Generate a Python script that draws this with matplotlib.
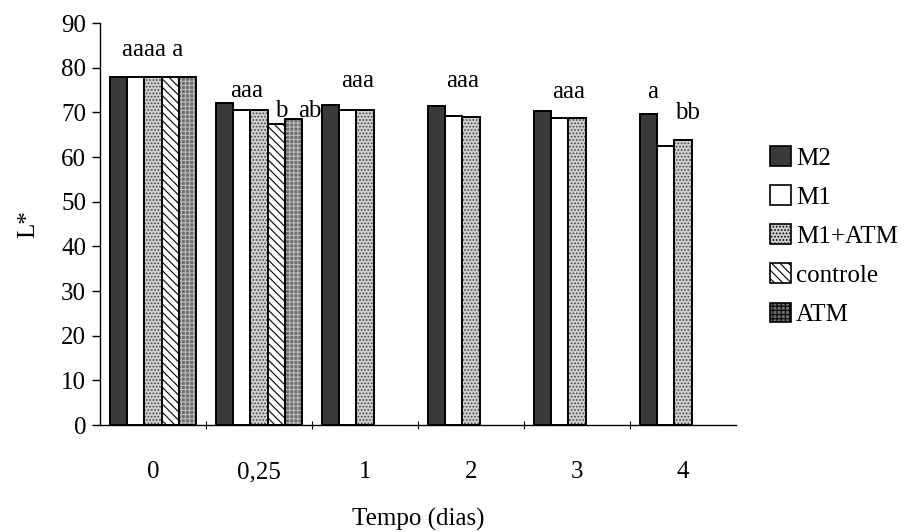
import numpy as np
import matplotlib
matplotlib.use("Agg")
import matplotlib.pyplot as plt
from matplotlib.patches import Patch

plt.rcParams['font.family'] = ['Liberation Serif', 'DejaVu Serif']
plt.rcParams['hatch.linewidth'] = 0.8

categories = ["0", "0,25", "1", "2", "3", "4"]
series_names = ["M2", "M1", "M1+ATM", "controle", "ATM"]
M2 = [78.0, 72.0, 71.7, 71.4, 70.2, 69.7]
M1 = [78.0, 70.6, 70.6, 69.1, 68.8, 62.4]
M1_ATM = [78.0, 70.6, 70.6, 69.0, 68.8, 63.7]
controle = [78.0, 67.5, None, None, None, None]
ATM = [78.0, 68.6, None, None, None, None]

# significance letters: (group index, text, baseline value)
letter_groups = [0, 1, 1, 1, 2, 3, 4, 5, 5]
letter_texts = ["aaaa a", "aaa", "b", "ab", "aaa", "aaa", "aaa", "a", "bb"]
letter_y = [82.5, 73.5, 69.0, 69.0, 75.6, 75.6, 73.3, 73.3, 68.4]
letter_dx = [0.0, -0.12, 0.21, 0.48, -0.07, -0.08, -0.08, -0.29, 0.04]

series = [M2, M1, M1_ATM, controle, ATM]
faces = ['#3a3a3a', 'white', '#d0d0d0', 'white', '#6e6e6e']
hatches = [None, None, '.....', '\\\\\\\\', '++++']
hcolors = ['black', 'black', '#444444', 'black', '#bbbbbb']

fig = plt.figure(figsize=(9.1, 5.32), dpi=100)
ax = fig.add_axes([100/910, 1-425/532, 636/910, 402/532])

w = 0.163
x = np.arange(len(categories))
for i, (vals, name) in enumerate(zip(series, series_names)):
    xs = [xi + (i - 2) * w for xi, v in zip(x, vals) if v is not None]
    vs = [v for v in vals if v is not None]
    bars = ax.bar(xs, vs, width=w, facecolor=faces[i], edgecolor='black',
                  linewidth=1.4, hatch=hatches[i], label=name, zorder=2)
    for b in bars:
        b._hatch_color = matplotlib.colors.to_rgba(hcolors[i])

for g, t, y, dx in zip(letter_groups, letter_texts, letter_y, letter_dx):
    ax.text(g + dx, y, t, ha='center', va='baseline', fontsize=18)

ax.set_xlim(-0.5, len(categories) - 0.5)
ax.set_ylim(0, 90)
ax.set_yticks(np.arange(0, 91, 10))
ax.tick_params(axis='y', direction='out', length=6, width=1, labelsize=18, pad=4)
ax.set_xticks(np.arange(0.5, len(categories) - 0.5, 1.0))
ax.set_xticklabels([])
ax.tick_params(axis='x', which='major', direction='inout', length=6, width=0.8)
ax.set_xticks(x, minor=True)
ax.set_xticklabels(categories, minor=True, fontsize=18)
ax.tick_params(axis='x', which='minor', length=0, pad=26)
for s in ['top', 'right']:
    ax.spines[s].set_visible(False)
ax.spines['left'].set_linewidth(1.0)
ax.spines['bottom'].set_linewidth(1.0)

ax.set_ylabel("L*", fontsize=18, labelpad=16)
ax.set_xlabel("Tempo (dias)", fontsize=18, labelpad=18)

handles = [Patch(facecolor=faces[i], edgecolor='black', hatch=hatches[i], linewidth=1.2)
           for i in range(5)]
leg = fig.legend(handles, series_names, loc='upper left', bbox_to_anchor=(760/910, 1-136/532),
                 frameon=False, fontsize=18, handlelength=0.85, handleheight=0.85,
                 handletextpad=0.2, labelspacing=0.62, borderaxespad=0)

fig.savefig("out.png", dpi=100)
